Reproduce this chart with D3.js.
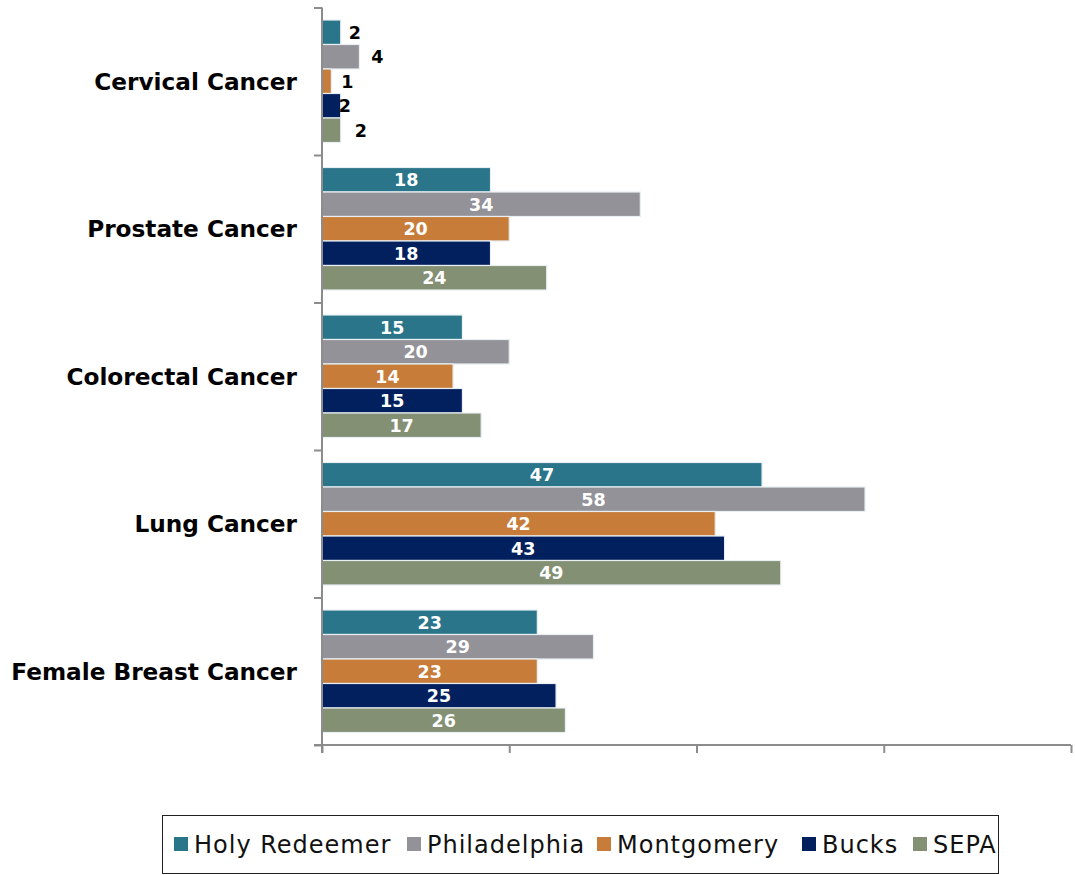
<!DOCTYPE html>
<html>
<head>
<meta charset="utf-8">
<script src="https://cdn.jsdelivr.net/npm/d3@7"></script>
<style>
  body { margin: 0; background: #fff; }
  text { font-family: "DejaVu Sans", sans-serif; }
</style>
</head>
<body>
<script>
var categories = ["Cervical Cancer", "Prostate Cancer", "Colorectal Cancer", "Lung Cancer", "Female Breast Cancer"];
var seriesNames = ["Holy Redeemer", "Philadelphia", "Montgomery", "Bucks", "SEPA"];
var holyRedeemer = [2, 18, 15, 47, 23];
var philadelphia = [4, 34, 20, 58, 29];
var montgomery = [1, 20, 14, 42, 23];
var bucks = [2, 18, 15, 43, 25];
var sepa = [2, 24, 17, 49, 26];
var xTicks = [0, 20, 40, 60, 80];

var colors = ["#2a7589", "#939298", "#c77c3a", "#03205e", "#839074"];
// nudge for labels that sit outside short bars
var outsideDx = [14, 18, 16, 4, 20];

var seriesValues = [holyRedeemer, philadelphia, montgomery, bucks, sepa];

var w = 1075,
    h = 875;

var margin = { top: 7.5, right: 4, bottom: 130, left: 322 };
var width = w - margin.left - margin.right,
    height = 745 - margin.top;

var svg = d3.select("body").append("svg")
    .attr("width", w)
    .attr("height", h);

var chart = svg.append("g")
    .attr("transform", "translate(" + margin.left + "," + margin.top + ")");

var x = d3.scaleLinear()
    .domain([0, 80])
    .range([0, width]);

var y = d3.scaleBand()
    .domain(categories)
    .range([0, height])
    .paddingInner(0)
    .paddingOuter(0);

var ySub = d3.scaleBand()
    .domain(seriesNames)
    .range([12.5, y.bandwidth() - 12.5])
    .padding(0);

var yEdges = d3.scaleLinear().domain([0, categories.length]).range([0, height]);

// bars
var groups = chart.selectAll(".cat")
    .data(categories)
    .enter().append("g")
    .attr("class", "cat")
    .attr("transform", function(d) { return "translate(0," + y(d) + ")"; });

groups.each(function(cat, ci) {
    var g = d3.select(this);
    seriesNames.forEach(function(s, si) {
        var v = seriesValues[si][ci];
        g.append("rect")
            .attr("x", x(0))
            .attr("y", ySub(s))
            .attr("width", x(v) - x(0))
            .attr("height", ySub.bandwidth())
            .attr("fill", colors[si])
            .attr("stroke", "#e8eef2")
            .attr("stroke-width", 1.2);

        var inside = x(v) - x(0) > 45;
        g.append("text")
            .attr("x", inside ? x(v / 2) : x(v) + outsideDx[si])
            .attr("y", ySub(s) + ySub.bandwidth() / 2)
            .attr("dy", "0.36em")
            .attr("text-anchor", "middle")
            .attr("font-size", 17.5)
            .attr("font-weight", "bold")
            .attr("fill", inside ? "#fff" : "#000")
            .text(v);
    });
});

// y axis
chart.append("g")
    .attr("class", "axis axis--y")
    .call(d3.axisLeft(yEdges)
        .tickValues(d3.range(0, categories.length + 1))
        .tickSize(8)
        .tickSizeOuter(0)
        .tickFormat(""));

chart.select(".axis--y .domain").remove();
chart.append("line")
    .attr("class", "yline")
    .attr("x1", 0).attr("x2", 0)
    .attr("y1", 0).attr("y2", height + 8);

// x axis
chart.append("g")
    .attr("class", "axis axis--x")
    .attr("transform", "translate(0," + height + ")")
    .call(d3.axisBottom(x)
        .tickValues(xTicks)
        .tickSize(8)
        .tickSizeOuter(0)
        .tickFormat(""));

chart.select(".axis--x .domain").remove();
chart.append("line")
    .attr("class", "xline")
    .attr("x1", -8).attr("x2", width)
    .attr("y1", height).attr("y2", height);

chart.selectAll(".axis line, .yline, .xline")
    .attr("stroke", "#8c8c8c")
    .attr("stroke-width", 2);

// category labels
chart.selectAll(".cat-label")
    .data(categories)
    .enter().append("text")
    .attr("class", "cat-label")
    .attr("x", -25)
    .attr("y", function(d) { return y(d) + y.bandwidth() / 2; })
    .attr("dy", "0.36em")
    .attr("text-anchor", "end")
    .attr("font-size", 23.2)
    .attr("font-weight", "bold")
    .attr("fill", "#000")
    .text(function(d) { return d; });

// legend
var legend = svg.append("g").attr("class", "legend");
legend.append("rect")
    .attr("x", 162.5)
    .attr("y", 815.5)
    .attr("width", 836)
    .attr("height", 58)
    .attr("fill", "none")
    .attr("stroke", "#222")
    .attr("stroke-width", 1);

var legendX = [174, 407, 597, 802, 913];
seriesNames.forEach(function(s, i) {
    legend.append("rect")
        .attr("x", legendX[i])
        .attr("y", 837)
        .attr("width", 14)
        .attr("height", 14)
        .attr("fill", colors[i]);
    legend.append("text")
        .attr("x", legendX[i] + 20)
        .attr("y", 853)
        .attr("font-size", 24)
        .attr("letter-spacing", 1)
        .attr("fill", "#111")
        .text(s);
});
</script>
</body>
</html>
